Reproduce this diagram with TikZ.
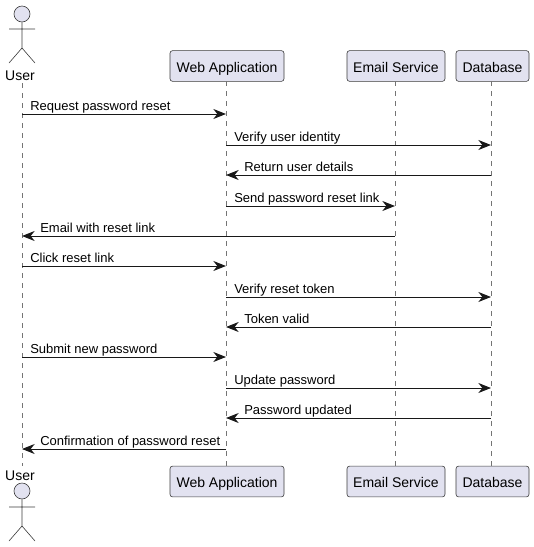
\documentclass[tikz,border=0pt]{standalone}
\usepackage{fontspec}
\setmainfont{Liberation Sans}
\usetikzlibrary{arrows.meta}
\definecolor{partfill}{HTML}{E2E2F0}
\definecolor{partline}{HTML}{181818}
\tikzset{
  part/.style={draw=partline!85,fill=partfill,line width=0.45pt,rounded corners=1.9pt,minimum height=23pt,inner sep=0pt,text height=9pt,text depth=0pt,font=\fontsize{10.5}{12}\selectfont},
  head/.style={draw=partline!85,fill=partfill,circle,line width=0.45pt,minimum size=12pt,inner sep=0pt},
  stick/.style={draw=partline!85,line width=0.45pt},
  life/.style={draw=partline!60,line width=0.35pt,dash pattern=on 3.75pt off 3.75pt},
  msg/.style={-{Stealth[length=9.5pt,width=7.5pt,inset=3pt]},partline,line width=0.75pt},
  msgtext/.style={anchor=base west,inner sep=0pt,text=black,font=\fontsize{9.75}{11}\selectfont},
}
\begin{document}
\begin{tikzpicture}[x=0.75pt,y=-0.75pt]
\useasboundingbox (0,0) rectangle (534,547);
% top row
\node[head] (Head1) at (22,14) {};
\node[msgtext,anchor=base,font=\fontsize{10.5}{12}\selectfont] (User1) at (20,80) {User};
\node[part,minimum width=85.5pt] (Web1) at (227,66) {Web Application};
\node[part,minimum width=73.5pt] (Mail1) at (396,66) {Email Service};
\node[part,minimum width=54.75pt] (Data1) at (492.5,66) {Database};
% bottom row
\node[msgtext,anchor=base,font=\fontsize{10.5}{12}\selectfont] (User2) at (20,480) {User};
\node[head] (Head2) at (22,491) {};
\node[part,minimum width=85.5pt] (Web2) at (227,481.5) {Web Application};
\node[part,minimum width=73.5pt] (Mail2) at (396,481.5) {Email Service};
\node[part,minimum width=54.75pt] (Data2) at (492.5,481.5) {Database};
% actors
\coordinate (Hip1) at (22,48);
\coordinate (Hip2) at (22,526);
\draw[stick] (Head1) -- (Hip1) -- (9,63) (Hip1) -- (35,63) (9,29) -- (35,29);
\draw[stick] (Head2) -- (Hip2) -- (9,541) (Hip2) -- (35,541) (9,507) -- (35,507);
% lifelines
\coordinate (UserTop) at (22,83);
\coordinate (UserEnd) at (22,466);
\coordinate (WebTop) at (226,81);
\coordinate (WebEnd) at (226,466);
\coordinate (MailTop) at (395,81);
\coordinate (MailEnd) at (395,466);
\coordinate (DataTop) at (491,81);
\coordinate (DataEnd) at (491,466);
\draw[life] (UserTop) -- (UserEnd);
\draw[life] (WebTop) -- (WebEnd);
\draw[life] (MailTop) -- (MailEnd);
\draw[life] (DataTop) -- (DataEnd);
% messages
\foreach \n/\y in {1/114,2/145,3/175,4/206,5/236,6/266,7/297,8/327,9/357,10/388,11/418,12/449} {
  \coordinate (U\n) at (22,\y);
  \coordinate (W\n) at (226,\y);
  \coordinate (M\n) at (395,\y);
  \coordinate (D\n) at (491,\y);
}
\draw[msg] (U1) -- (W1);
\node[msgtext] (T1) at ([shift={(6pt,2.6pt)}]U1) {Request password reset};
\draw[msg] (W2) -- (D2);
\node[msgtext] (T2) at ([shift={(6pt,2.6pt)}]W2) {Verify user identity};
\draw[msg] (D3) -- (W3);
\node[msgtext] (T3) at ([shift={(13.5pt,2.6pt)}]W3) {Return user details};
\draw[msg] (W4) -- (M4);
\node[msgtext] (T4) at ([shift={(6pt,2.6pt)}]W4) {Send password reset link};
\draw[msg] (M5) -- (U5);
\node[msgtext] (T5) at ([shift={(13.5pt,2.6pt)}]U5) {Email with reset link};
\draw[msg] (U6) -- (W6);
\node[msgtext] (T6) at ([shift={(6pt,2.6pt)}]U6) {Click reset link};
\draw[msg] (W7) -- (D7);
\node[msgtext] (T7) at ([shift={(6pt,2.6pt)}]W7) {Verify reset token};
\draw[msg] (D8) -- (W8);
\node[msgtext] (T8) at ([shift={(13.5pt,2.6pt)}]W8) {Token valid};
\draw[msg] (U9) -- (W9);
\node[msgtext] (T9) at ([shift={(6pt,2.6pt)}]U9) {Submit new password};
\draw[msg] (W10) -- (D10);
\node[msgtext] (T10) at ([shift={(6pt,2.6pt)}]W10) {Update password};
\draw[msg] (D11) -- (W11);
\node[msgtext] (T11) at ([shift={(13.5pt,2.6pt)}]W11) {Password updated};
\draw[msg] (W12) -- (U12);
\node[msgtext] (T12) at ([shift={(13.5pt,2.6pt)}]U12) {Confirmation of password reset};
\end{tikzpicture}
\end{document}
